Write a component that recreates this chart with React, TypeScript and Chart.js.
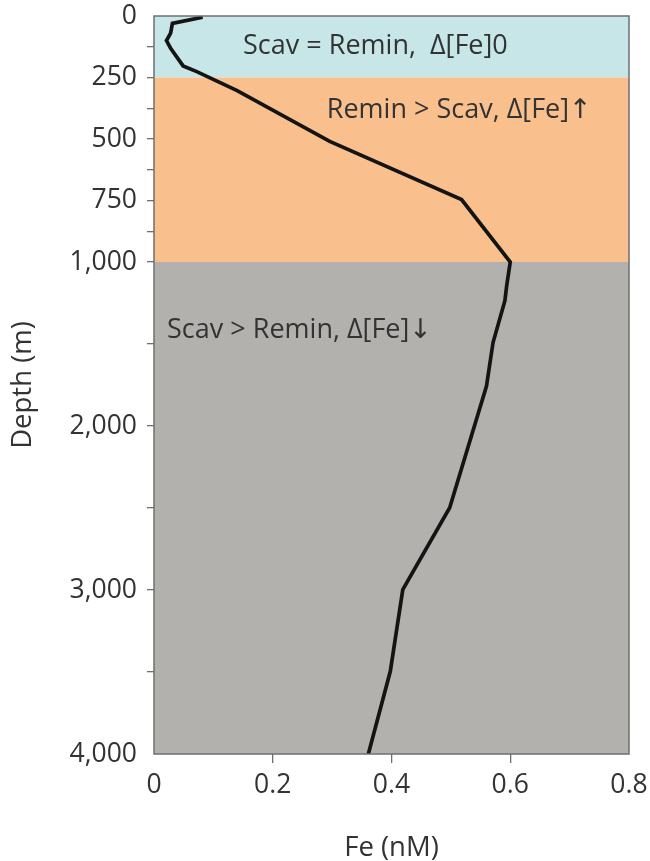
import React, { useEffect, useRef } from 'react';
import { Chart, registerables } from 'chart.js';

Chart.register(...registerables);

// Fe concentration (nM) and depth (m) along the profile
const feValues = [0.082, 0.031, 0.028, 0.021, 0.028, 0.049, 0.072, 0.14, 0.296, 0.518, 0.6, 0.594, 0.591, 0.571, 0.56, 0.498, 0.419, 0.398, 0.361];
const depthValues = [5, 30, 70, 100, 131, 203, 226, 303, 510, 746, 1000, 1145, 1236, 1491, 1756, 2498, 2998, 3496, 4000];

// Axis ticks
const yMajorTicks = [0, 250, 500, 750, 1000, 2000, 3000, 4000];
const yMinorTicks = [125, 375, 625, 875, 1500, 2500, 3500];
const xTicks = [0, 0.2, 0.4, 0.6, 0.8];

// Depth zones
const zoneTops = [0, 250, 1000];
const zoneBottoms = [250, 1000, 4000];
const zoneLabels = ['Scav = Remin,  Δ[Fe]0', 'Remin > Scav, Δ[Fe]↑', 'Scav > Remin, Δ[Fe]↓'];

// Broken depth axis: below 1,000 m the scale is compressed
const BREAK = 1000;
const DEEP_FACTOR = 2 / 3;
const toAxis = (d: number) => (d <= BREAK ? d : BREAK + (d - BREAK) * DEEP_FACTOR);
const fromAxis = (v: number) => (v <= BREAK ? v : BREAK + (v - BREAK) / DEEP_FACTOR);

const FONT = '"Open Sans", "DejaVu Sans", sans-serif';
const TEXT = '#333333';
const AXIS = '#6f6f6f';

export default function App() {
  const ref = useRef<HTMLCanvasElement | null>(null);

  useEffect(() => {
    document.body.style.margin = '0';
    const canvas = ref.current;
    if (!canvas) return;

    const zoneColors = ['#c6e6e7', '#f9c08e', '#b3b1ae'];
    const labelAnchors = [
      [0.15, 122],
      [0.291, 382],
      [0.022, 1414],
    ];

    const zonesPlugin = {
      id: 'zones',
      beforeDatasetsDraw(chart: any) {
        const { ctx, chartArea, scales } = chart;
        const y = scales.y;
        const x = scales.x;
        ctx.save();
        zoneTops.forEach((top, i) => {
          const y1 = y.getPixelForValue(toAxis(top));
          const y2 = y.getPixelForValue(toAxis(zoneBottoms[i]));
          ctx.fillStyle = zoneColors[i];
          ctx.fillRect(chartArea.left, y1, chartArea.right - chartArea.left, y2 - y1);
        });
        ctx.fillStyle = TEXT;
        ctx.font = `27px ${FONT}`;
        ctx.textBaseline = 'middle';
        ctx.textAlign = 'left';
        zoneLabels.forEach((label, i) => {
          const [fx, fd] = labelAnchors[i];
          ctx.fillText(label, x.getPixelForValue(fx), y.getPixelForValue(toAxis(fd)));
        });
        ctx.restore();
      },
      afterDraw(chart: any) {
        const { ctx, chartArea } = chart;
        ctx.save();
        ctx.strokeStyle = AXIS;
        ctx.lineWidth = 1.5;
        ctx.strokeRect(chartArea.left, chartArea.top, chartArea.right - chartArea.left, chartArea.bottom - chartArea.top);
        ctx.restore();
      },
    };

    const chart = new Chart(canvas, {
      type: 'line',
      data: {
        datasets: [
          {
            data: feValues.map((fe, i) => ({ x: fe, y: toAxis(depthValues[i]) })),
            borderColor: '#141414',
            borderWidth: 3.7,
            pointRadius: 0,
            tension: 0,
            fill: false,
          },
        ],
      },
      options: {
        animation: false,
        responsive: false,
        maintainAspectRatio: false,
        layout: { padding: { top: 16, right: 21, left: 0, bottom: 0 } },
        plugins: { legend: { display: false }, tooltip: { enabled: false } },
        scales: {
          x: {
            type: 'linear',
            min: 0,
            max: 0.8,
            afterBuildTicks: (scale: any) => {
              scale.ticks = xTicks.map((v) => ({ value: v }));
            },
            afterFit: (scale: any) => {
              scale.height = 107;
              scale.paddingLeft = 0;
              scale.paddingRight = 0;
            },
            ticks: {
              color: TEXT,
              font: { family: FONT, size: 26.5 },
              padding: 7,
              maxRotation: 0,
              callback: (v: any) => String(Number(Number(v).toFixed(1))),
            },
            grid: {
              drawOnChartArea: false,
              drawTicks: true,
              tickLength: 9,
              lineWidth: 1.3,
              color: (ctx: any) => {
                const v = ctx.tick ? ctx.tick.value : 0;
                return v === 0 || v === 0.8 ? 'rgba(0,0,0,0)' : AXIS;
              },
            },
            border: { display: false },
            title: {
              display: true,
              text: 'Fe (nM)',
              color: TEXT,
              font: { family: FONT, size: 27.5, lineHeight: 1 },
              padding: { top: 0, bottom: -1 },
            },
          },
          y: {
            type: 'linear',
            reverse: true,
            min: 0,
            max: toAxis(4000),
            afterBuildTicks: (scale: any) => {
              scale.ticks = [...yMajorTicks, ...yMinorTicks]
                .sort((a, b) => a - b)
                .map((d) => ({ value: toAxis(d) }));
            },
            afterFit: (scale: any) => {
              scale.width = 154;
              scale.paddingTop = 0;
              scale.paddingBottom = 0;
            },
            ticks: {
              color: TEXT,
              font: { family: FONT, size: 26.5 },
              padding: 10,
              autoSkip: false,
              callback: (v: any) => {
                const d = Math.round(fromAxis(Number(v)));
                return yMajorTicks.includes(d) ? d.toLocaleString('en-US') : '';
              },
            },
            grid: {
              drawOnChartArea: false,
              drawTicks: true,
              tickLength: 7,
              lineWidth: 1.3,
              color: (ctx: any) => {
                const d = ctx.tick ? Math.round(fromAxis(ctx.tick.value)) : 0;
                return d === 0 || d === 4000 ? 'rgba(0,0,0,0)' : AXIS;
              },
            },
            border: { display: false },
            title: {
              display: true,
              text: 'Depth (m)',
              color: TEXT,
              font: { family: FONT, size: 27.5, lineHeight: 1 },
              padding: { top: 9, bottom: 0 },
            },
          },
        },
      },
      plugins: [zonesPlugin],
    });

    return () => chart.destroy();
  }, []);

  return (
    <div style={{ width: 650, height: 861, position: 'relative', background: '#ffffff' }}>
      <canvas ref={ref} width={650} height={861} style={{ width: 650, height: 861, display: 'block' }} />
    </div>
  );
}
